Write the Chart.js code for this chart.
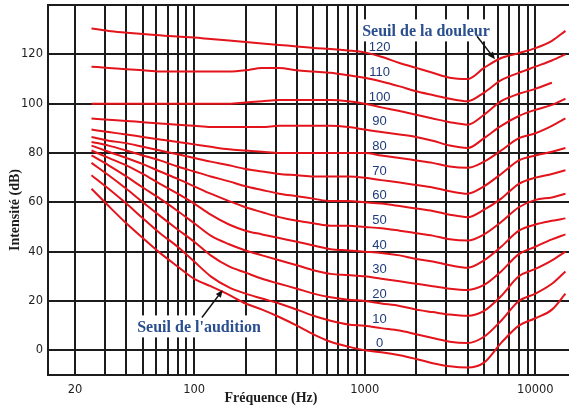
<!DOCTYPE html>
<html lang="fr">
<head>
<meta charset="utf-8">
<title>Courbes d'isosonie</title>
<script src="https://cdn.jsdelivr.net/npm/chart.js@4.4.1/dist/chart.umd.min.js"></script>
<style>
  html, body { margin: 0; padding: 0; background: #fff; }
  canvas { display: block; }
</style>
</head>
<body>
<canvas id="chart" width="569" height="409"></canvas>
<script>
// Fréquences communes à toutes les courbes (Hz)
const frequencies = [25, 31.5, 40, 50, 63, 80, 100, 125, 160, 200, 250, 315, 400, 500, 630, 800,
  1000, 1250, 1600, 2000, 2500, 3150, 4000, 5000, 6300, 8000, 10000, 12500, 15000];

// Niveaux d'isosonie (phones), un par courbe
const phonLevels = [0, 10, 20, 30, 40, 50, 60, 70, 80, 90, 100, 110, 120];

// Intensité (dB) lue sur chaque courbe
const curve0 = [65.5, 58.5, 51.5, 45.5, 39.5, 34, 29, 26, 22.5, 19, 16.5, 13.5, 10, 6.5, 3.5, 1.5,
  0, -0.8, -2, -3.5, -5.2, -6.5, -7, -5, 3, 10, 13, 16.5, 23];
const curve10 = [71, 65.5, 59.5, 53.5, 47.5, 42, 36, 30, 25.5, 23, 21, 19, 16.5, 14, 12, 10.5,
  10, 9, 8, 6.5, 5, 3.5, 3, 5.5, 12, 20, 23, 27, 32];
const curve20 = [76, 71, 65.5, 60, 54.5, 49, 44, 38.5, 34, 31.5, 29, 27, 25, 23, 21.5, 20.5,
  20, 19, 18, 16.5, 15.5, 14.5, 14, 16, 22, 30, 33, 36.5, 40];
const curve30 = [79, 75, 70.5, 66, 61.5, 56.5, 51.5, 46.5, 43, 40.5, 38.5, 36.5, 34.5, 32.5, 31, 30.5,
  30, 29, 28, 27, 26, 25, 24.5, 26.5, 32, 39, 42, 45, 47];
const curve40 = [81, 78, 75, 71.5, 67.5, 63.5, 59.5, 55, 51, 48.5, 47, 45.5, 44, 42.5, 41, 40.5,
  40, 39.5, 38.5, 37, 36, 34.5, 33.5, 36.5, 42, 48.5, 51, 52.5, 53.5];
const curve50 = [83, 80.5, 78, 75.5, 72.5, 69.5, 66.5, 63.5, 60.5, 58, 56, 54, 52.5, 51.5, 50.5, 50.5,
  50, 49.5, 48.5, 47.5, 46.5, 45, 44.5, 47, 52, 58, 61, 62, 63.5];
const curve60 = [84.5, 83, 81, 79, 77, 74.5, 72.5, 70.5, 68.5, 66.5, 65, 63.5, 62.5, 61.5, 60.5, 60.5,
  60, 59.5, 58.5, 57.5, 56.5, 55, 54, 57, 61.5, 67.5, 70, 71.5, 73];
const curve70 = [86.5, 85, 84, 82.5, 81, 79.5, 78, 76.5, 75, 73.5, 72.5, 71.5, 71, 70.5, 70.5, 70.5,
  70, 69, 68, 67, 66, 64.5, 63.5, 66.5, 71.5, 77, 79, 80.5, 82];
const curve80 = [89.5, 88.5, 87.5, 86.5, 85.5, 84.5, 83.5, 82.5, 81.5, 81, 80.5, 80, 80, 80, 80, 80,
  80, 79, 78, 77, 76, 74.5, 74, 76.5, 81, 86, 88, 91, 94];
const curve90 = [94, 93.5, 93, 92.5, 92, 91.5, 91, 90.5, 90.5, 90.5, 90.5, 91, 91, 91, 91, 90.5,
  89.5, 88.5, 87.5, 86.5, 85, 83, 82, 86, 91, 95, 97.5, 99.5, 102];
const curve100 = [100, 100, 100, 100, 100, 100, 100, 100, 100, 100.5, 101, 101.5, 101.5, 101.5, 101.5, 101,
  100, 98.5, 97, 95.5, 94, 92.5, 91.5, 95.5, 101, 104, 106, 108.5, null];
const curve110 = [115, 114.5, 114, 113.5, 113, 113, 113, 113, 113, 113.5, 114.5, 114.5, 113.5, 113, 112.5, 111.5,
  110.5, 109, 107, 105, 103.5, 102, 101, 104.5, 109.5, 112.5, 115, 117.5, 120];
const curve120 = [130.5, 129.5, 128.8, 128.2, 127.7, 127.2, 126.8, 126.2, 125.6, 125, 124.4, 123.8, 123.2, 122.6, 122.2, 121.6,
  120.8, 119, 116.5, 114.5, 112.5, 110.5, 110, 114.5, 118.5, 120.5, 122.5, 125.5, 129.5];

const curves = [curve0, curve10, curve20, curve30, curve40, curve50, curve60,
  curve70, curve80, curve90, curve100, curve110, curve120];

// Graduations
const xTickLabels = [20, 100, 1000, 10000];
const yTickValues = [0, 20, 40, 60, 80, 100, 120];

// lignes verticales de la grille : 20..90, 100..900, 1000..9000, 10000
const xGridValues = [];
[10, 100, 1000].forEach(decade => {
  for (let k = 1; k <= 9; k++) {
    const v = k * decade;
    if (v >= 20) xGridValues.push(v);
  }
});
xGridValues.push(10000);

const RED = '#e3141b';
const BLUE = '#2a4f8f';
const INK = '#1c1c1c';

function drawArrow(ctx, x1, y1, x2, y2) {
  const a = Math.atan2(y2 - y1, x2 - x1);
  ctx.beginPath();
  ctx.moveTo(x1, y1);
  ctx.lineTo(x2 - 4 * Math.cos(a), y2 - 4 * Math.sin(a));
  ctx.stroke();
  ctx.beginPath();
  ctx.moveTo(x2, y2);
  ctx.lineTo(x2 - 8 * Math.cos(a - 0.4), y2 - 8 * Math.sin(a - 0.4));
  ctx.lineTo(x2 - 8 * Math.cos(a + 0.4), y2 - 8 * Math.sin(a + 0.4));
  ctx.closePath();
  ctx.fill();
}

function boxedText(ctx, text, cx, cy) {
  const w = ctx.measureText(text).width;
  ctx.fillStyle = '#fff';
  ctx.fillRect(cx - w / 2 - 4, cy - 11, w + 8, 22);
  ctx.fillStyle = BLUE;
  ctx.fillText(text, cx, cy + 1);
}

// Textes, flèches, cadre et titres des axes
const decorations = {
  id: 'decorations',
  afterDraw(chart) {
    const { ctx, chartArea, scales: { x, y } } = chart;
    ctx.save();

    // bord supérieur du cadre
    ctx.strokeStyle = INK;
    ctx.lineWidth = 2;
    ctx.beginPath();
    ctx.moveTo(chartArea.left, chartArea.top);
    ctx.lineTo(chartArea.right, chartArea.top);
    ctx.stroke();

    // étiquettes des courbes (phones), près de 1 kHz
    ctx.font = '13px "Liberation Sans", sans-serif';
    ctx.fillStyle = '#1f3b7a';
    ctx.textAlign = 'center';
    ctx.textBaseline = 'middle';
    phonLevels.forEach(p => {
      ctx.fillText(String(p), x.getPixelForValue(1220), y.getPixelForValue(p + 2.6));
    });

    // seuils
    ctx.font = 'bold 16px "Liberation Serif", serif';
    boxedText(ctx, 'Seuil de la douleur', x.getPixelForValue(2284), y.getPixelForValue(129.7));
    boxedText(ctx, "Seuil de l'audition", x.getPixelForValue(106.7), y.getPixelForValue(9.7));

    ctx.strokeStyle = '#111';
    ctx.fillStyle = '#111';
    ctx.lineWidth = 1.5;
    drawArrow(ctx, x.getPixelForValue(4547), y.getPixelForValue(127.3),
      x.getPixelForValue(5797), y.getPixelForValue(118));
    drawArrow(ctx, x.getPixelForValue(111), y.getPixelForValue(13.3),
      x.getPixelForValue(147), y.getPixelForValue(24.5));

    // titres des axes
    ctx.fillStyle = INK;
    ctx.font = 'bold 14px "Liberation Serif", serif';
    ctx.fillText('Fréquence (Hz)', chartArea.left + 223, chartArea.bottom + 23);
    ctx.translate(15, chartArea.top + 205);
    ctx.rotate(-Math.PI / 2);
    ctx.fillText('Intensité (dB)', 0, 0);

    ctx.restore();
  }
};

const datasets = curves.map((values, i) => ({
  label: phonLevels[i] + ' phones',
  data: frequencies.map((f, j) => ({ x: f, y: values[j] })),
  borderColor: RED,
  borderWidth: 2,
  pointRadius: 0,
  fill: false,
  cubicInterpolationMode: 'monotone',
  spanGaps: false
}));

new Chart(document.getElementById('chart'), {
  type: 'line',
  data: { datasets },
  options: {
    responsive: false,
    animation: false,
    devicePixelRatio: 1,
    layout: { padding: { top: 5, right: 0, bottom: 0, left: 0 } },
    plugins: {
      legend: { display: false },
      tooltip: { enabled: false }
    },
    scales: {
      x: {
        type: 'logarithmic',
        min: 13.9,
        max: 15740,
        afterBuildTicks: scale => {
          scale.ticks = xGridValues.map(v => ({ value: v }));
        },
        afterFit: scale => {
          scale.height = 34;
          scale.paddingLeft = 0;
          scale.paddingRight = 0;
        },
        grid: { color: INK, lineWidth: 2, drawTicks: false },
        border: { display: true, color: INK, width: 2 },
        ticks: {
          autoSkip: false,
          maxRotation: 0,
          padding: 8,
          color: '#222',
          font: { family: 'DejaVu Sans', size: 11.5 },
          callback: value => xTickLabels.includes(value) ? String(value) : ''
        }
      },
      y: {
        min: -10,
        max: 140,
        afterBuildTicks: scale => {
          scale.ticks = yTickValues.map(v => ({ value: v }));
        },
        afterFit: scale => {
          scale.width = 48;
          scale.paddingTop = 0;
          scale.paddingBottom = 0;
        },
        grid: { color: INK, lineWidth: 2, drawTicks: false },
        border: { display: true, color: INK, width: 2 },
        ticks: {
          padding: 5,
          color: '#222',
          font: { family: 'DejaVu Sans', size: 11.5 }
        }
      }
    }
  },
  plugins: [decorations]
});
</script>
</body>
</html>
